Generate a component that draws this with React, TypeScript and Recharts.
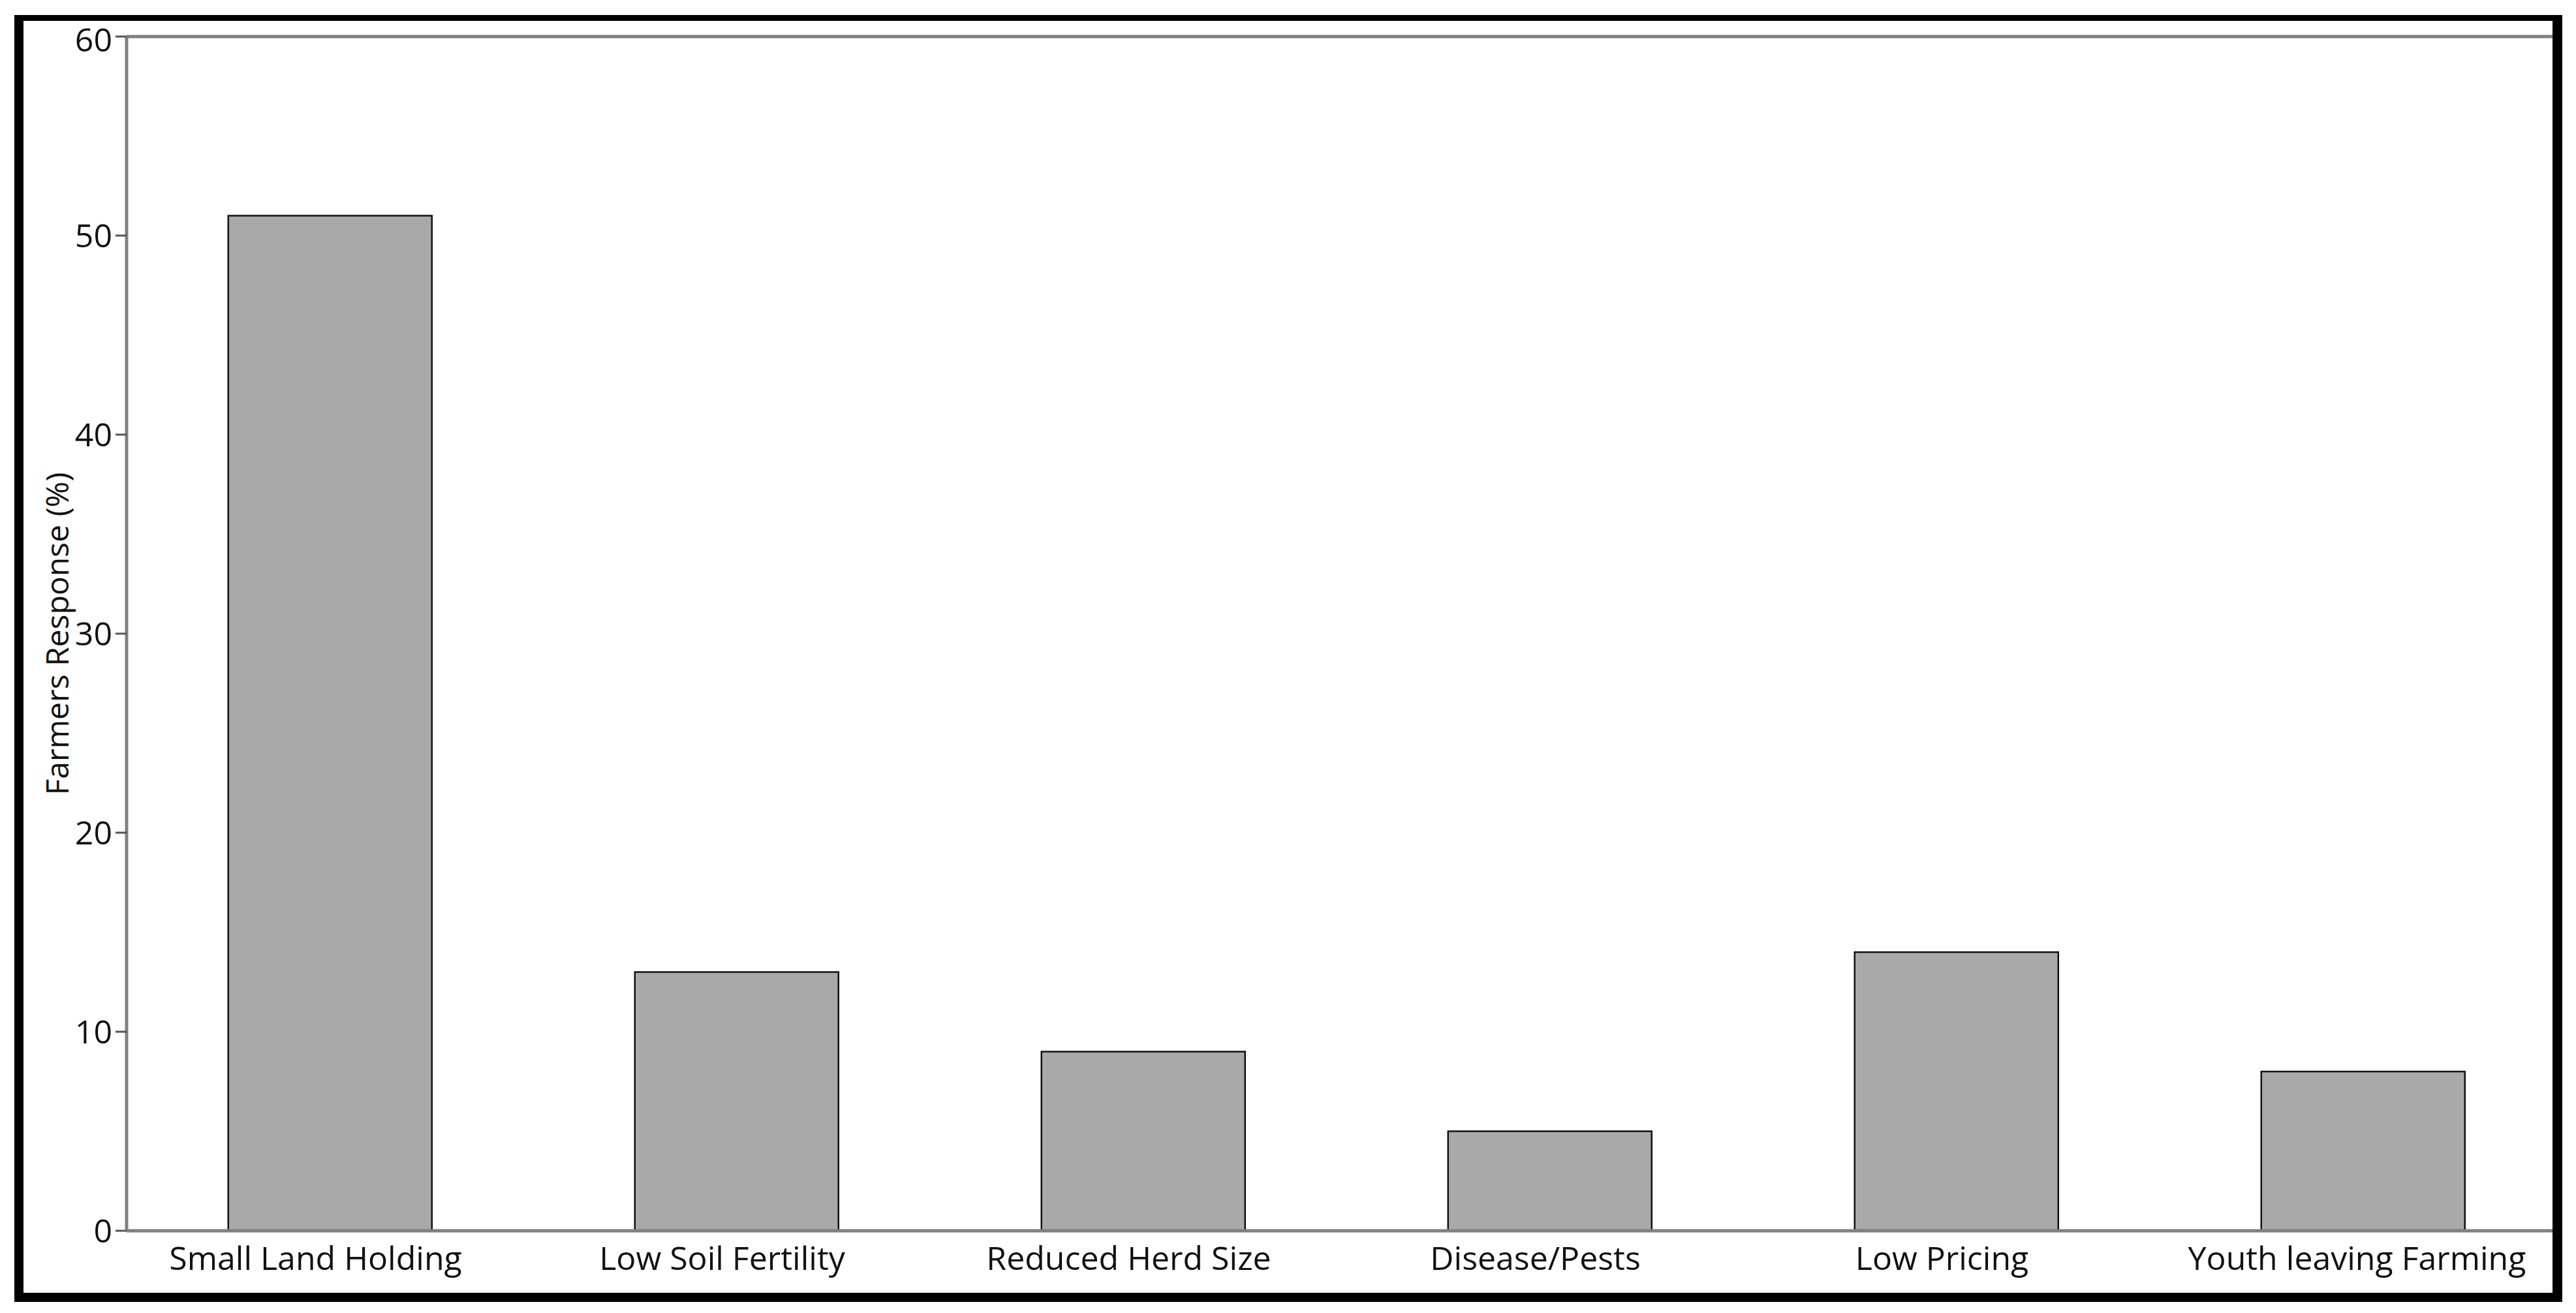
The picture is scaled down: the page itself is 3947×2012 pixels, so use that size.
import { Bar, BarChart, ReferenceLine, XAxis, YAxis } from "recharts";

const categories = [
  "Small Land Holding",
  "Low Soil Fertility",
  "Reduced Herd Size",
  "Disease/Pests",
  "Low Pricing",
  "Youth leaving Farming",
];
const responses = [51, 13, 9, 5, 14, 8];
const yTicks = [0, 10, 20, 30, 40, 50, 60];

const chartData = categories.map((name, i) => ({ name, value: responses[i] }));

const FONT = "'Open Sans', 'Noto Sans', sans-serif";

// labels sit a bit left of the bar centres in the original
const CategoryTick = (props: any) => {
  const { x, y, payload, index } = props;
  const shift = index === categories.length - 1 ? -9 : -22;
  return (
    <text
      x={x + shift}
      y={y}
      dy="0.71em"
      textAnchor="middle"
      fill="#111"
      fontSize={50}
      fontFamily={FONT}
    >
      {payload.value}
    </text>
  );
};

export default function App() {
  return (
    <div style={{ paddingLeft: 14, paddingTop: 15 }}>
      <div
        style={{
          width: 3875,
          height: 1949,
          borderStyle: "solid",
          borderColor: "#000",
          borderTopWidth: 9,
          borderLeftWidth: 14,
          borderRightWidth: 15,
          borderBottomWidth: 14,
          background: "#fff",
          overflow: "hidden",
        }}
      >
        <BarChart
          width={3896}
          height={1949}
          data={chartData}
          margin={{ top: 24, right: 0, left: 0, bottom: 0 }}
          barCategoryGap="25%"
          style={{ fontFamily: FONT }}
        >
          <XAxis
            dataKey="name"
            height={95}
            interval={0}
            axisLine={{ stroke: "#808080", strokeWidth: 5 }}
            tickLine={false}
            tickSize={8}
            tickMargin={16}
            tick={<CategoryTick />}
          />
          <YAxis
            width={158}
            domain={[0, 60]}
            ticks={yTicks}
            axisLine={{ stroke: "#808080", strokeWidth: 5 }}
            tickLine={{ stroke: "#555", strokeWidth: 3 }}
            tickSize={17}
            tickMargin={5}
            tick={{ fill: "#111", fontSize: 50 }}
            label={{
              value: "Farmers Response (%)",
              angle: -90,
              position: "insideLeft",
              offset: 52,
              style: { textAnchor: "middle", fill: "#111", fontSize: 48 },
            }}
          />
          <ReferenceLine y={60} stroke="#808080" strokeWidth={5} />
          <Bar
            dataKey="value"
            fill="#a9a9a9"
            stroke="#111"
            strokeWidth={2.5}
            isAnimationActive={false}
          />
        </BarChart>
      </div>
    </div>
  );
}
